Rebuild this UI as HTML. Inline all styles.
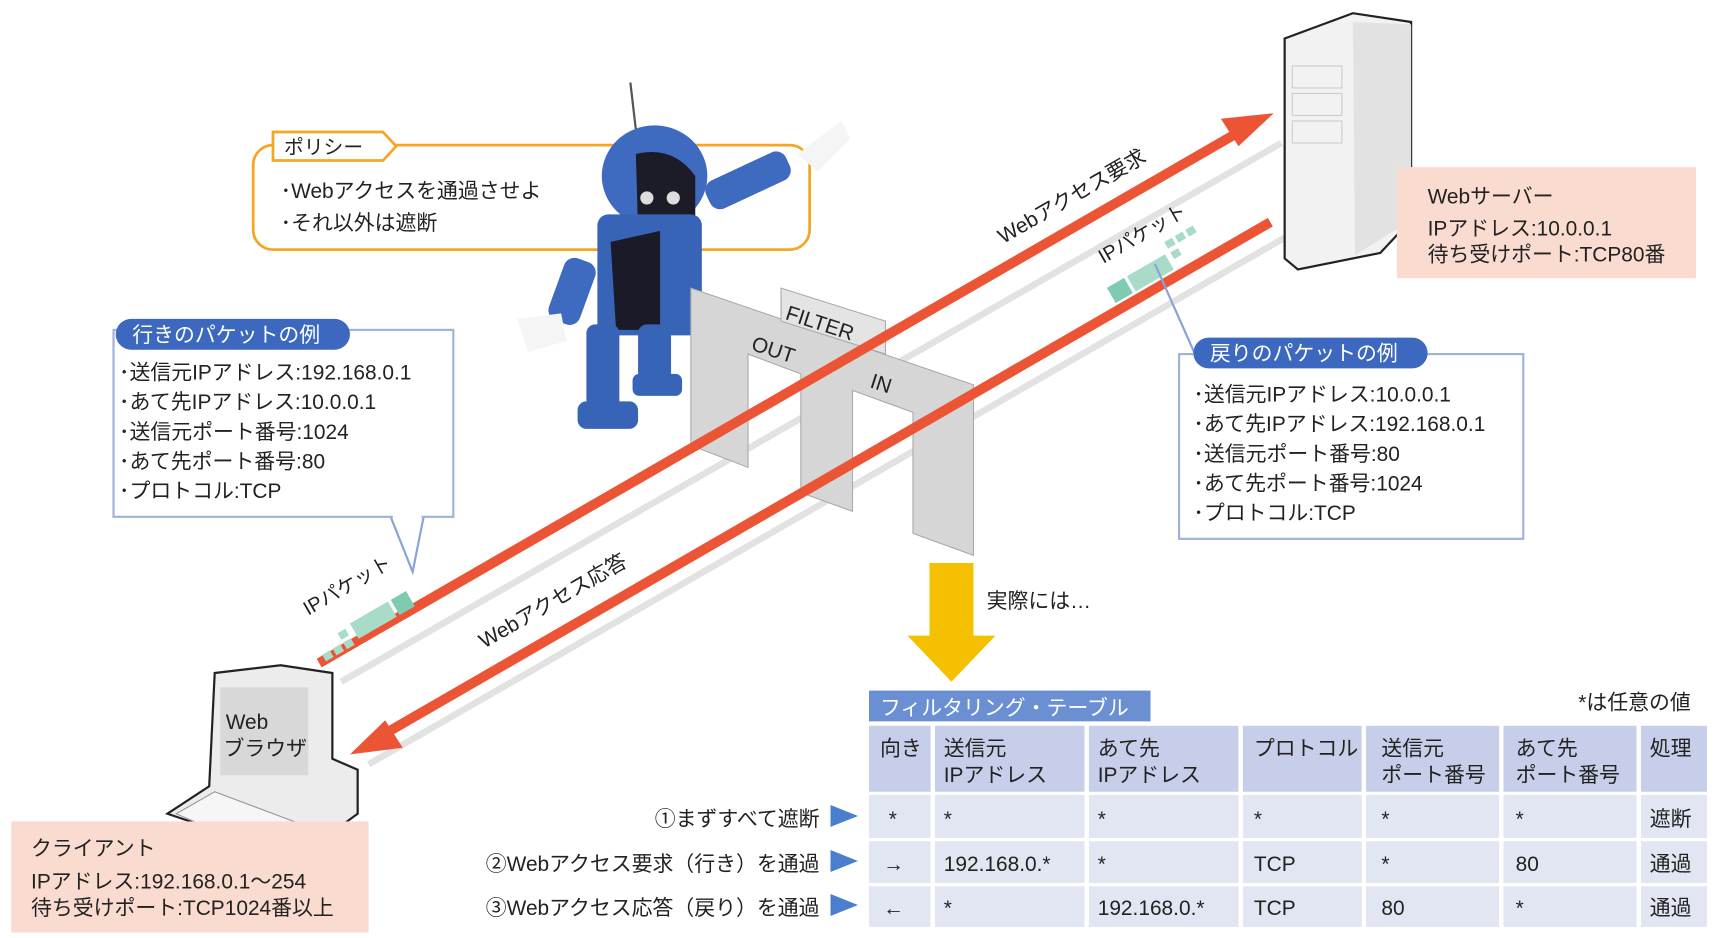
<!DOCTYPE html>
<html><head><meta charset="utf-8">
<style>
html,body{margin:0;padding:0;background:#fff;}
svg{display:block;}
text{font-family:"Liberation Sans","Noto Sans CJK JP",sans-serif;fill:#222;}
</style></head>
<body>
<svg width="1716" height="938" viewBox="0 0 1560 853" xmlns="http://www.w3.org/2000/svg">
<!-- gray shadow lines -->
<line x1="310" y1="620" x2="1165" y2="130" stroke="#e2e2e2" stroke-width="6"/>
<line x1="335" y1="695" x2="1170" y2="215" stroke="#e2e2e2" stroke-width="6"/>

<!-- server -->
<path d="M1168,35 L1230,12 L1283,20 L1283,200 L1255,230 L1180,245 L1168,235 Z" fill="#f2f2f2" stroke="#222" stroke-width="2"/>
<path d="M1230,20 L1283,22 L1283,200 L1232,232 Z" fill="#e2e2e2"/>
<rect x="1175" y="60" width="45" height="20" fill="none" stroke="#ccc"/>
<rect x="1175" y="85" width="45" height="20" fill="none" stroke="#ccc"/>
<rect x="1175" y="110" width="45" height="20" fill="none" stroke="#ccc"/>
<rect x="1270" y="152" width="272" height="101" fill="#fadbd0"/>
<text x="1298" y="185" font-size="19">Webサーバー</text>
<text x="1298" y="214" font-size="19">IPアドレス:10.0.0.1</text>
<text x="1298" y="238" font-size="19">待ち受けポート:TCP80番</text>

<!-- policy box -->
<rect x="230" y="132" width="506" height="95" rx="18" fill="#fff" stroke="#f5a623" stroke-width="2.5"/>
<polygon points="248,120 348,120 360,133 348,146 248,146" fill="#fff" stroke="#f5a623" stroke-width="2.5"/>
<text x="258" y="140" font-size="18">ポリシー</text>
<text x="255" y="180" font-size="19">･Webアクセスを通過させよ</text>
<text x="255" y="209" font-size="19">･それ以外は遮断</text>

<!-- robot -->
<g>
<line x1="573" y1="75" x2="578" y2="118" stroke="#555" stroke-width="2"/>
<ellipse cx="595" cy="160" rx="48" ry="46" fill="#3e6bbf"/>
<path d="M578,140 Q612,132 632,160 L632,200 L580,210 Z" fill="#1c1c28"/>
<circle cx="588" cy="180" r="6" fill="#ddd"/><circle cx="612" cy="180" r="6" fill="#ddd"/>
<rect x="543" y="195" width="95" height="110" rx="10" fill="#3864b8"/>
<path d="M555,220 L600,210 L600,300 L560,300 Z" fill="#1a1a28"/>
<rect x="640" y="150" width="80" height="28" rx="10" fill="#3e6bbf" transform="rotate(-25 680 164)"/>
<path d="M725,140 l40,-30 l8,16 l-30,30 Z" fill="#f5f5f5"/>
<rect x="505" y="235" width="30" height="60" rx="10" fill="#3e6bbf" transform="rotate(20 520 265)"/>
<path d="M470,290 l40,-5 l5,25 l-35,10 Z" fill="#f5f5f5"/>
<rect x="533" y="295" width="30" height="80" rx="8" fill="#3864b8"/>
<rect x="580" y="295" width="30" height="60" rx="8" fill="#3864b8"/>
<rect x="525" y="365" width="55" height="25" rx="8" fill="#3864b8"/>
<rect x="575" y="340" width="45" height="20" rx="6" fill="#3864b8"/>
</g>

<!-- filter gate -->
<g fill="#d6d6d6" stroke="#aaa" stroke-width="1">
<polygon points="628,262 885,350 885,505 830,485 830,375 775,355 775,465 728,448 728,340 680,322 680,425 628,405"/>
<polygon points="710,262 805,292 805,322 710,292" fill="#e4e4e4"/>
</g>
<text x="713" y="290" font-size="19" transform="rotate(18 713 290)">FILTER</text>
<text x="682" y="318" font-size="19" transform="rotate(18 682 318)">OUT</text>
<text x="790" y="352" font-size="19" transform="rotate(18 790 352)">IN</text>

<!-- red lines -->
<line x1="290" y1="603" x2="1130" y2="118" stroke="#ec5436" stroke-width="9"/>
<polygon points="1158,103 1110,108 1126,133" fill="#ec5436"/>
<line x1="1155" y1="202" x2="345" y2="670" stroke="#ec5436" stroke-width="9"/>
<polygon points="318,686 366,680 350,655" fill="#ec5436"/>

<!-- line labels -->
<text x="912" y="222" font-size="19" transform="rotate(-30 912 222)">Webアクセス要求</text>
<text x="440" y="590" font-size="19" transform="rotate(-30 440 590)">Webアクセス応答</text>
<text x="1003" y="240" font-size="18" transform="rotate(-30 1003 240)">IPパケット</text>
<text x="280" y="560" font-size="18" transform="rotate(-30 280 560)">IPパケット</text>
<!-- packets -->
<g fill="#a8dcc8" transform="rotate(-30 1040 240)">
<rect x="1000" y="242" width="18" height="16" fill="#7fcbb0"/>
<rect x="1021" y="242" width="40" height="16"/>
<rect x="1066" y="232" width="8" height="7"/><rect x="1077" y="232" width="8" height="7"/><rect x="1088" y="232" width="8" height="7"/><rect x="1066" y="243" width="8" height="7"/>
</g>
<g fill="#a8dcc8" transform="rotate(-30 330 560)">
<rect x="280" y="572" width="8" height="7"/><rect x="291" y="572" width="8" height="7"/><rect x="302" y="572" width="8" height="7"/><rect x="302" y="562" width="8" height="7"/>
<rect x="316" y="560" width="40" height="16"/>
<rect x="359" y="560" width="16" height="16" fill="#7fcbb0"/>
</g>

<!-- outgoing packet box -->
<polyline points="355,470 375,520 385,470" fill="#fff" stroke="#8aa4d8" stroke-width="2"/>
<rect x="103" y="300" width="309" height="170" fill="#fff" stroke="#9fb3de" stroke-width="2"/>
<rect x="357" y="468" width="26" height="4" fill="#fff"/>
<rect x="105" y="290" width="213" height="28" rx="14" fill="#3c68bf"/>
<text x="120" y="311" font-size="19" style="fill:#fff">行きのパケットの例</text>
<g font-size="19">
<text x="108" y="345">･送信元IPアドレス:192.168.0.1</text>
<text x="108" y="372">･あて先IPアドレス:10.0.0.1</text>
<text x="108" y="399">･送信元ポート番号:1024</text>
<text x="108" y="426">･あて先ポート番号:80</text>
<text x="108" y="453">･プロトコル:TCP</text>
</g>

<!-- return packet box -->
<polyline points="1050,240 1090,330 1115,322" fill="none" stroke="#8aa4d8" stroke-width="2"/>
<rect x="1072" y="322" width="313" height="168" fill="#fff" stroke="#9fb3de" stroke-width="2"/>
<rect x="1085" y="307" width="213" height="28" rx="14" fill="#3c68bf"/>
<text x="1100" y="328" font-size="19" style="fill:#fff">戻りのパケットの例</text>
<g font-size="19">
<text x="1085" y="365">･送信元IPアドレス:10.0.0.1</text>
<text x="1085" y="392">･あて先IPアドレス:192.168.0.1</text>
<text x="1085" y="419">･送信元ポート番号:80</text>
<text x="1085" y="446">･あて先ポート番号:1024</text>
<text x="1085" y="473">･プロトコル:TCP</text>
</g>

<!-- yellow arrow -->
<polygon points="845,512 885,512 885,578 905,578 865,620 825,578 845,578" fill="#f5c000"/>
<text x="897" y="553" font-size="19">実際には…</text>

<!-- client -->
<path d="M195,612 L255,605 L302,612 L302,690 L325,700 L325,740 L270,780 L152,740 L190,715 Z" fill="#ececec" stroke="#222" stroke-width="2"/>
<rect x="200" y="625" width="80" height="80" fill="#d8d8d8"/>
<path d="M160,740 L195,720 L275,750 L240,775 Z" fill="#f6f6f6" stroke="#999"/>
<text x="205" y="663" font-size="19">Web</text>
<text x="203" y="687" font-size="19">ブラウザ</text>
<rect x="10" y="747" width="325" height="101" fill="#fadbd0"/>
<text x="28" y="778" font-size="19">クライアント</text>
<text x="28" y="808" font-size="19">IPアドレス:192.168.0.1～254</text>
<text x="28" y="832" font-size="19">待ち受けポート:TCP1024番以上</text>

<!-- table -->
<rect x="790" y="628" width="256" height="28" fill="#6b8fd3"/>
<text x="800" y="650" font-size="19" style="fill:#fff">フィルタリング・テーブル</text>
<text x="1435" y="645" font-size="19">*は任意の値</text>
<g fill="#c7cee9">
<rect x="790" y="660" width="56" height="60"/><rect x="850" y="660" width="136" height="60"/><rect x="990" y="660" width="136" height="60"/><rect x="1130" y="660" width="108" height="60"/><rect x="1242" y="660" width="121" height="60"/><rect x="1367" y="660" width="121" height="60"/><rect x="1492" y="660" width="60" height="60"/>
</g>
<g fill="#e2e5f2">
<rect x="790" y="723" width="56" height="39"/><rect x="850" y="723" width="136" height="39"/><rect x="990" y="723" width="136" height="39"/><rect x="1130" y="723" width="108" height="39"/><rect x="1242" y="723" width="121" height="39"/><rect x="1367" y="723" width="121" height="39"/><rect x="1492" y="723" width="60" height="39"/>
<rect x="790" y="765" width="56" height="38"/><rect x="850" y="765" width="136" height="38"/><rect x="990" y="765" width="136" height="38"/><rect x="1130" y="765" width="108" height="38"/><rect x="1242" y="765" width="121" height="38"/><rect x="1367" y="765" width="121" height="38"/><rect x="1492" y="765" width="60" height="38"/>
<rect x="790" y="806" width="56" height="37"/><rect x="850" y="806" width="136" height="37"/><rect x="990" y="806" width="136" height="37"/><rect x="1130" y="806" width="108" height="37"/><rect x="1242" y="806" width="121" height="37"/><rect x="1367" y="806" width="121" height="37"/><rect x="1492" y="806" width="60" height="37"/>
</g>
<g font-size="19">
<text x="800" y="687">向き</text>
<text x="858" y="687">送信元</text><text x="858" y="711">IPアドレス</text>
<text x="998" y="687">あて先</text><text x="998" y="711">IPアドレス</text>
<text x="1140" y="687">プロトコル</text>
<text x="1256" y="687">送信元</text><text x="1256" y="711">ポート番号</text>
<text x="1378" y="687">あて先</text><text x="1378" y="711">ポート番号</text>
<text x="1500" y="687">処理</text>

<text x="808" y="751">*</text><text x="858" y="751">*</text><text x="998" y="751">*</text><text x="1140" y="751">*</text><text x="1256" y="751">*</text><text x="1378" y="751">*</text><text x="1500" y="751">遮断</text>
<text x="803" y="792">→</text><text x="858" y="792">192.168.0.*</text><text x="998" y="792">*</text><text x="1140" y="792">TCP</text><text x="1256" y="792">*</text><text x="1378" y="792">80</text><text x="1500" y="792">通過</text>
<text x="803" y="832">←</text><text x="858" y="832">*</text><text x="998" y="832">192.168.0.*</text><text x="1140" y="832">TCP</text><text x="1256" y="832">80</text><text x="1378" y="832">*</text><text x="1500" y="832">通過</text>

<text x="745" y="751" text-anchor="end">①まずすべて遮断</text>
<text x="745" y="792" text-anchor="end">②Webアクセス要求（行き）を通過</text>
<text x="745" y="832" text-anchor="end">③Webアクセス応答（戻り）を通過</text>
</g>
<g fill="#4a7fd0">
<polygon points="755,732 780,742 755,752"/>
<polygon points="755,773 780,783 755,793"/>
<polygon points="755,813 780,823 755,833"/>
</g>
</svg>
</body></html>
